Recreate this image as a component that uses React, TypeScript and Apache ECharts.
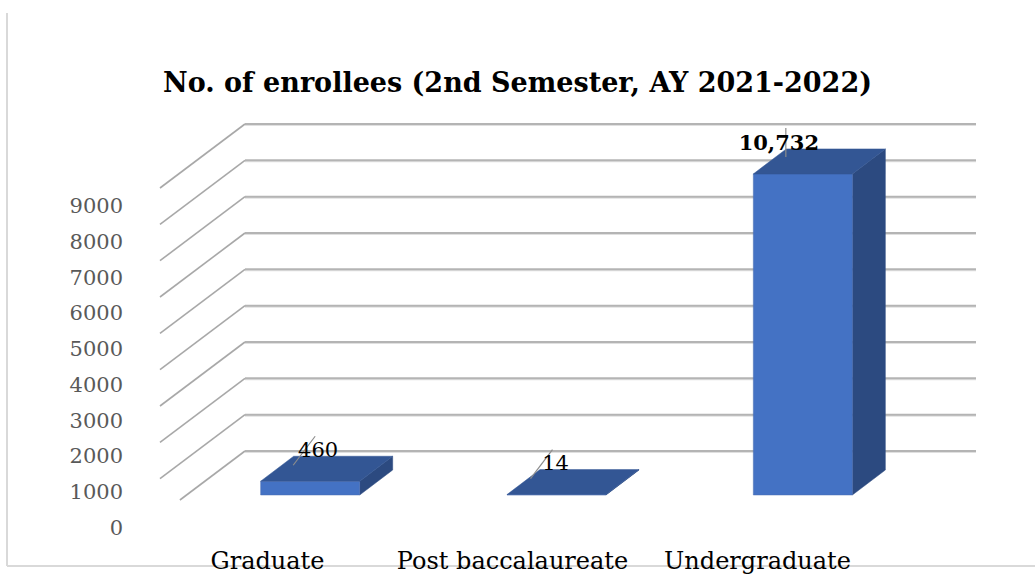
import React, { useEffect, useRef } from "react";
import * as echarts from "echarts";

const chartTitle = "No. of enrollees (2nd Semester, AY 2021-2022)";
const categories = ["Graduate", "Post baccalaureate", "Undergraduate"];
const enrollees = [460, 14, 10732];
const wallLevels = [1000, 2000, 3000, 4000, 5000, 6000, 7000, 8000, 9000, 10000];

const FONT = "'DejaVu Serif', 'Liberation Serif', serif";
const DEPTH_X = 33;
const DEPTH_Y = -25;
const DIAG_X = -85;
const DIAG_Y = 64;
const FLOOR_CLIP_Y = 500;

export default function App() {
  const ref = useRef<HTMLDivElement>(null);

  useEffect(() => {
    if (!ref.current) return;
    const chart = echarts.init(ref.current, null, { renderer: "svg" });

    const option: any = {
      animation: false,
      backgroundColor: "#ffffff",
      title: {
        text: chartTitle,
        left: "center",
        top: 64,
        textStyle: { fontFamily: FONT, fontWeight: "bold", fontSize: 27, color: "#000000" },
      },
      graphic: [
        { type: "line", shape: { x1: 7, y1: 13, x2: 7, y2: 566 }, style: { stroke: "#d9d9d9", lineWidth: 2 }, silent: true },
        { type: "line", shape: { x1: 7, y1: 566, x2: 1035, y2: 566 }, style: { stroke: "#d9d9d9", lineWidth: 2 }, silent: true },
      ],
      grid: [
        { left: 145, right: 155, top: 206, bottom: 46 },
        { left: 187, right: 109, top: 136, bottom: 79 },
        { left: 245, right: 59, top: 124, bottom: 123 },
      ],
      xAxis: [
        {
          gridIndex: 0,
          type: "category",
          data: categories,
          axisLine: { show: false },
          axisTick: { show: false },
          axisLabel: { fontFamily: FONT, fontSize: 24, color: "#000000", margin: 21, interval: 0, hideOverlap: false },
        },
        { gridIndex: 1, type: "category", data: categories, show: false },
        { gridIndex: 2, type: "value", min: 0, max: 1, show: false },
      ],
      yAxis: [
        {
          gridIndex: 0,
          type: "value",
          min: 0,
          max: 9000,
          interval: 1000,
          axisLine: { show: false },
          axisTick: { show: false },
          splitLine: { show: false },
          axisLabel: {
            fontFamily: FONT,
            fontSize: 21,
            color: "#595959",
            margin: 22,
            formatter: (v: number) => String(v),
          },
        },
        { gridIndex: 1, type: "value", min: 0, max: 12000, show: false, splitLine: { show: false } },
        { gridIndex: 2, type: "value", min: 1000, max: 10000, interval: 1000, show: false, splitLine: { show: false } },
      ],
      series: [
        {
          type: "custom",
          xAxisIndex: 2,
          yAxisIndex: 2,
          clip: false,
          silent: true,
          z: 1,
          data: wallLevels.map((v) => [0, v]),
          encode: { x: 0, y: 1 },
          renderItem: (params: any, api: any) => {
            const v = api.value(1);
            const p = api.coord([0, v]);
            const q = api.coord([1, v]);
            let ex = p[0] + DIAG_X;
            let ey = p[1] + DIAG_Y;
            if (ey > FLOOR_CLIP_Y) {
              const t = (FLOOR_CLIP_Y - p[1]) / DIAG_Y;
              ex = p[0] + DIAG_X * t;
              ey = FLOOR_CLIP_Y;
            }
            return {
              type: "group",
              children: [
                { type: "line", shape: { x1: p[0], y1: p[1] + 1, x2: q[0], y2: q[1] + 1 }, style: { stroke: "#e0e0e0", lineWidth: 2 } },
                { type: "line", shape: { x1: p[0], y1: p[1], x2: q[0], y2: q[1] }, style: { stroke: "#b4b4b4", lineWidth: 2 } },
                { type: "line", shape: { x1: p[0], y1: p[1], x2: ex, y2: ey }, style: { stroke: "#a8a8a8", lineWidth: 1.6 } },
              ],
            };
          },
        },
        {
          type: "custom",
          xAxisIndex: 1,
          yAxisIndex: 1,
          clip: false,
          z: 5,
          data: enrollees.map((v, i) => [i, v]),
          encode: { x: 0, y: 1 },
          renderItem: (params: any, api: any) => {
            const idx = api.value(0);
            const v = api.value(1);
            const base = api.coord([idx, 0]);
            const top = api.coord([idx, v]);
            const w = api.size([1, 0])[0] * 0.402;
            const x0 = base[0] - w / 2;
            const x1 = base[0] + w / 2;
            const yb = base[1];
            const yt = top[1];
            const lx = base[0] + (idx === 2 ? -24 : idx === 1 ? -1 : 8);
            const ly = yt + DEPTH_Y + 4;
            const isBig = idx === 2;
            const leader = isBig
              ? { x1: lx + 7, y1: ly - 25, x2: lx + 7, y2: ly + 4 }
              : { x1: lx - 25, y1: ly + 5, x2: lx - 3, y2: ly - 24 };
            return {
              type: "group",
              children: [
                {
                  type: "polygon",
                  shape: { points: [[x1, yb], [x1 + DEPTH_X, yb + DEPTH_Y], [x1 + DEPTH_X, yt + DEPTH_Y], [x1, yt]] },
                  style: { fill: "#2c4a80", stroke: "#2c4a80", lineWidth: 0.5 },
                },
                {
                  type: "polygon",
                  shape: { points: [[x0, yb], [x1, yb], [x1, yt], [x0, yt]] },
                  style: { fill: "#4472c4", stroke: "#4a6db0", lineWidth: 0.5 },
                },
                {
                  type: "polygon",
                  shape: { points: [[x0, yt], [x1, yt], [x1 + DEPTH_X, yt + DEPTH_Y], [x0 + DEPTH_X, yt + DEPTH_Y]] },
                  style: { fill: "#335694", stroke: "#335694", lineWidth: 0.5 },
                },
                {
                  type: "line",
                  shape: leader,
                  style: { stroke: "#8c8c8c", lineWidth: 1.2 },
                },
                {
                  type: "text",
                  x: lx,
                  y: ly,
                  style: {
                    text: v.toLocaleString("en-US"),
                    fontFamily: FONT,
                    fontSize: 21,
                    fontWeight: isBig ? "bold" : "normal",
                    fill: "#000000",
                    align: "center",
                    verticalAlign: "bottom",
                  },
                },
              ],
            };
          },
        },
      ],
    };

    chart.setOption(option);
    return () => chart.dispose();
  }, []);

  return (
    <div
      ref={ref}
      style={{ position: "absolute", left: 0, top: 0, width: 1035, height: 574 }}
    />
  );
}
